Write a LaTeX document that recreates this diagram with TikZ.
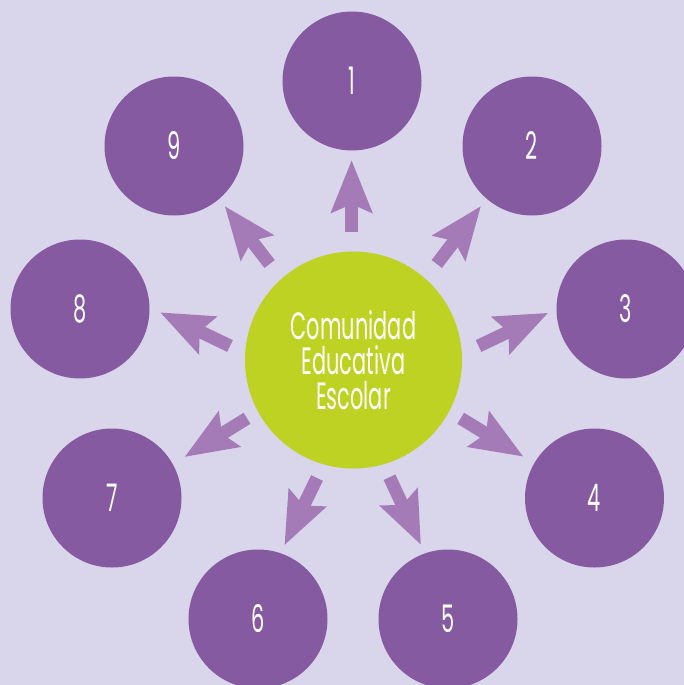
\documentclass[tikz,border=0pt]{standalone}
\usepackage{fontspec}
\setmainfont{Poppins}[FakeStretch=0.55]
\usetikzlibrary{arrows.meta}
\definecolor{bgc}{RGB}{217,213,235}
\definecolor{purc}{RGB}{133,90,161}
\definecolor{grnc}{RGB}{190,210,35}
\definecolor{arrc}{RGB}{165,123,183}
\tikzset{
  outer/.style={circle,fill=purc,minimum size=139pt,inner sep=0pt,text=white,font=\fontsize{38}{40}\selectfont},
  hub/.style={circle,fill=grnc,minimum size=217pt,inner sep=0pt,text=white,align=center,font=\fontsize{38}{35}\selectfont},
  arr/.style={draw=arrc,line width=13pt,-{Stealth[length=52pt,width=40pt,inset=8pt,fill=arrc]}}
}
\begin{document}
\begin{tikzpicture}[x=1pt,y=-1pt]
\useasboundingbox (0,0) rectangle (684,685);
\clip (0,0) rectangle (684,685);
\fill[bgc] (0,0) rectangle (684,685);
\node[hub] (c) at (353.5,360) {Comunidad\\Educativa\\Escolar};
\node[outer] (n1) at (352,81) {1};
\node[outer] (n2) at (532,146) {2};
\node[outer] (n3) at (626,309) {3};
\node[outer] (n4) at (594.5,498) {4};
\node[outer] (n5) at (448,619) {5};
\node[outer] (n6) at (258,619) {6};
\node[outer] (n7) at (112,498) {7};
\node[outer] (n8) at (80,309) {8};
\node[outer] (n9) at (174,146) {9};
\coordinate (a1) at (351.6,232); \coordinate (b1) at (351.6,160);
\coordinate (a2) at (436.8,264); \coordinate (b2) at (481,206);
\coordinate (a3) at (478.5,346); \coordinate (b3) at (548.3,312.8);
\coordinate (a4) at (460.7,418.3); \coordinate (b4) at (523.5,456.7);
\coordinate (a5) at (389.5,477.2); \coordinate (b5) at (421,545);
\coordinate (a6) at (317,478); \coordinate (b6) at (284.4,545.3);
\coordinate (a7) at (247,418.3); \coordinate (b7) at (184.5,457);
\coordinate (a8) at (230,346); \coordinate (b8) at (160,312.3);
\coordinate (a9) at (269.6,264); \coordinate (b9) at (224.7,206);
\foreach \i in {1,...,9}{\draw[arr] (a\i) -- (b\i);}
\end{tikzpicture}
\end{document}
